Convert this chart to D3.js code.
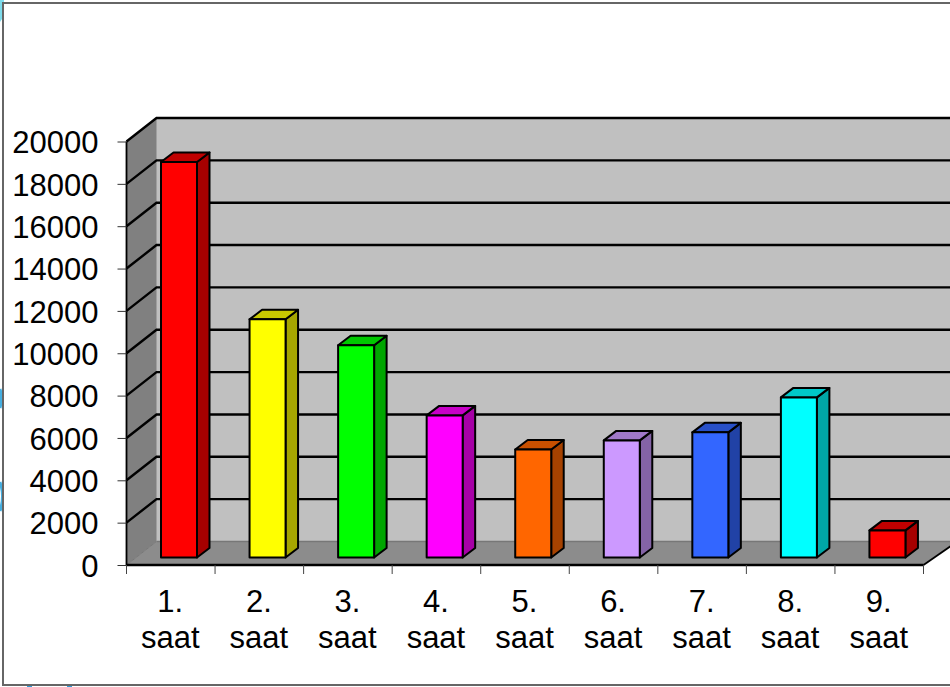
<!DOCTYPE html>
<html>
<head>
<meta charset="utf-8">
<script src="https://cdn.jsdelivr.net/npm/d3@7"></script>
<style>
html, body { margin: 0; padding: 0; background: #fff; overflow: hidden; }
svg { display: block; }
text { font-family: "Liberation Sans", Arial, sans-serif; fill: #000; }
</style>
</head>
<body>
<svg id="chart" width="950" height="687"></svg>
<script>
var categories = ['1.', '2.', '3.', '4.', '5.', '6.', '7.', '8.', '9.'];
var unitLabel = 'saat';
var values = [18680, 11250, 10020, 6710, 5100, 5530, 5910, 7560, 1280];
var yTicks = [0, 2000, 4000, 6000, 8000, 10000, 12000, 14000, 16000, 18000, 20000];
var frontColors = ['#ff0000', '#ffff00', '#00ff00', '#ff00ff', '#ff6600', '#cc99ff', '#3366ff', '#00ffff', '#ff0000'];
var topColors = ['#c00000', '#c8c800', '#00c800', '#c800c8', '#c85000', '#a078c8', '#2850c8', '#00c8c8', '#c00000'];
var sideColors = ['#a60000', '#a6a600', '#00a600', '#a600a6', '#a64200', '#8463a6', '#2142a6', '#00a6a6', '#a60000'];

var svg = d3.select('#chart');

var x = d3.scaleBand().domain(categories).range([126.5, 923.5]);
var y = d3.scaleLinear().domain([0, 20000]).range([565, 141.5]);

// depth of the box and of the bars
var wallDx = 30, wallDy = -23.5;
var barDx = 12.5, barDy = -9.5;
var barInX = 34.5, barInY = -7.5, barW = 36;

function poly(points, fill, sw) {
    return svg.append('polygon')
        .attr('points', points.map(function(p) { return p.join(','); }).join(' '))
        .attr('fill', fill)
        .attr('stroke', '#000')
        .attr('stroke-width', sw)
        .attr('stroke-linejoin', 'round');
}

// bits of the slide background showing outside the frame
svg.append('path').attr('d', 'M0,0H4V16L0,22Z').attr('fill', '#7fdcec');
svg.append('path').attr('d', 'M0,389Q3,398 0,408').attr('fill', 'none').attr('stroke', '#45aee0').attr('stroke-width', 3);
svg.append('path').attr('d', 'M0,482Q5,496 0,511').attr('fill', 'none').attr('stroke', '#45aee0').attr('stroke-width', 3);
svg.append('rect').attr('x', 27).attr('y', 684).attr('width', 5).attr('height', 3).attr('fill', '#2f9bd8');
svg.append('rect').attr('x', 67).attr('y', 684).attr('width', 5).attr('height', 3).attr('fill', '#2f9bd8');

var x0 = x.range()[0], x1 = x.range()[1];
var backX0 = x0 + wallDx, backX1 = x1 + wallDx + 4;

// back wall, side wall, floor
svg.append('rect').attr('x', backX0).attr('y', y(20000) + wallDy)
    .attr('width', backX1 - backX0).attr('height', y(0) - y(20000))
    .attr('fill', '#c0c0c0');
svg.append('polygon')
    .attr('points', [[x0, y(0)], [x0, y(20000)], [backX0, y(20000) + wallDy], [backX0, y(0) + wallDy]].join(' '))
    .attr('fill', '#808080');
svg.append('polygon')
    .attr('points', [[x0, y(0)], [x1, y(0)], [backX1, y(0) + wallDy], [backX0, y(0) + wallDy]].join(' '))
    .attr('fill', '#8c8c8c');

svg.append('line').attr('x1', backX0).attr('x2', backX0).attr('y1', y(20000) + wallDy).attr('y2', y(0) + wallDy)
    .attr('stroke', '#a0a0a0').attr('stroke-width', 1);
svg.append('line').attr('x1', backX0).attr('x2', backX1).attr('y1', y(0) + wallDy).attr('y2', y(0) + wallDy)
    .attr('stroke', '#777').attr('stroke-width', 1.5);
svg.append('line').attr('x1', x0).attr('x2', backX0).attr('y1', y(0)).attr('y2', y(0) + wallDy)
    .attr('stroke', '#777').attr('stroke-width', 1);

// gridlines
yTicks.filter(function(t) { return t > 0; }).forEach(function(t) {
    svg.append('path')
        .attr('d', d3.line()([[x0, y(t)], [backX0, y(t) + wallDy], [backX1, y(t) + wallDy]]))
        .attr('fill', 'none').attr('stroke', '#000').attr('stroke-width', 2.4);
});

// front edges of the box
svg.append('line').attr('x1', x0).attr('x2', x0).attr('y1', y(0)).attr('y2', y(20000))
    .attr('stroke', '#000').attr('stroke-width', 1.8);
svg.append('line').attr('x1', x0).attr('x2', x1).attr('y1', y(0)).attr('y2', y(0))
    .attr('stroke', '#000').attr('stroke-width', 2.4);
svg.append('line').attr('x1', x1).attr('x2', backX1).attr('y1', y(0)).attr('y2', y(0) + wallDy)
    .attr('stroke', '#000').attr('stroke-width', 1.8);

// bars
values.forEach(function(v, i) {
    var l = x(categories[i]) + barInX, r = l + barW;
    var b = y(0) + barInY, t = b - (y(0) - y(v));
    poly([[r, b], [r + barDx, b + barDy], [r + barDx, t + barDy], [r, t]], sideColors[i], 2);
    poly([[l, t], [r, t], [r + barDx, t + barDy], [l + barDx, t + barDy]], topColors[i], 2);
    poly([[l, b], [r, b], [r, t], [l, t]], frontColors[i], 2);
});

// y axis
var yAxis = d3.axisLeft(y).tickValues(yTicks).tickSize(9).tickPadding(19).tickFormat(d3.format('d'));
var gy = svg.append('g').attr('transform', 'translate(' + x0 + ',0)').call(yAxis);
gy.select('.domain').remove();
gy.selectAll('line').attr('stroke', '#333').attr('stroke-width', 1);
gy.selectAll('text').attr('font-size', 31).attr('dy', '0.36em');

// x axis ticks and labels
var xAxis = d3.axisBottom(x).tickSize(0).tickFormat('');
var gx = svg.append('g').attr('transform', 'translate(0,' + y(0) + ')').call(xAxis);
gx.select('.domain').remove();
x.domain().concat(['end']).forEach(function(c, i) {
    var px = x0 + i * x.bandwidth();
    gx.append('line').attr('x1', px).attr('x2', px).attr('y1', 0).attr('y2', 9)
        .attr('stroke', '#444').attr('stroke-width', 1);
});
categories.forEach(function(c) {
    var cx = x(c) + x.bandwidth() / 2 - 0.5;
    var lab = svg.append('text').attr('text-anchor', 'middle').attr('font-size', 31);
    lab.append('tspan').attr('x', cx).attr('y', 612).text(c);
    lab.append('tspan').attr('x', cx).attr('y', 648).text(unitLabel);
});

// slide frame
svg.append('path').attr('d', 'M950,3H3V685H950').attr('fill', 'none').attr('stroke', '#666').attr('stroke-width', 2);
</script>
</body>
</html>
